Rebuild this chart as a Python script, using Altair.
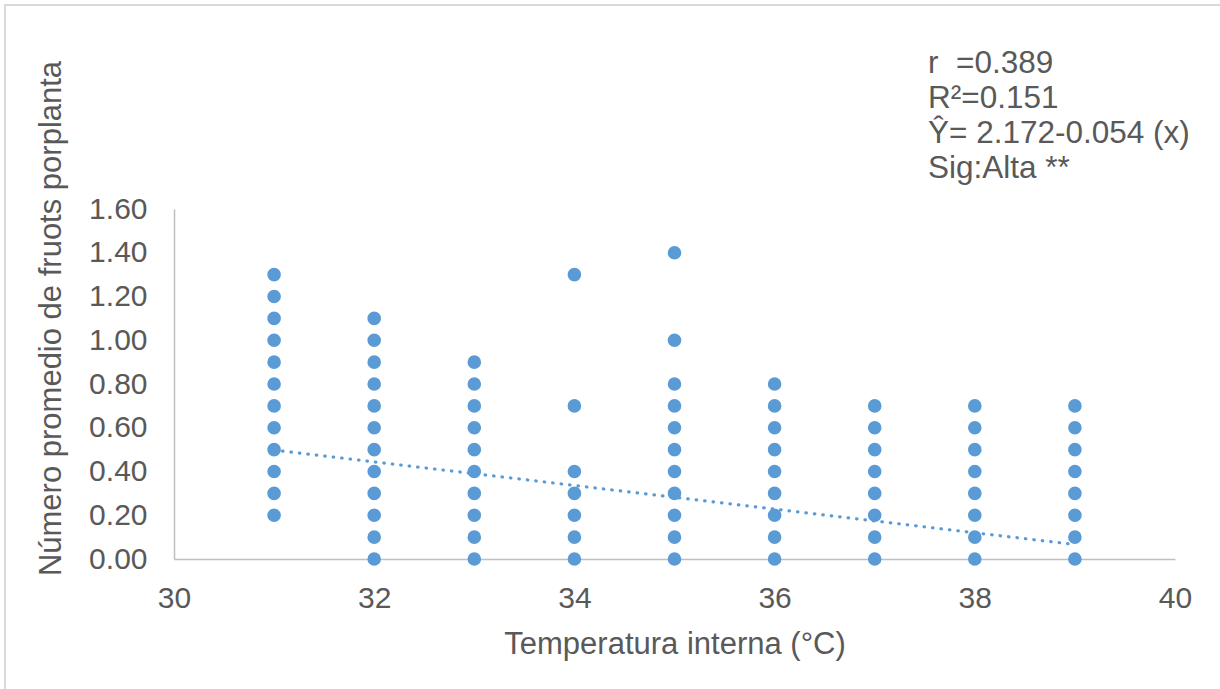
import altair as alt
import pandas as pd

# ---- data ----
temps = [31, 32, 33, 34, 35, 36, 37, 38, 39]
fruits_by_temp = [
    [0.2, 0.3, 0.4, 0.5, 0.6, 0.7, 0.8, 0.9, 1.0, 1.1, 1.2, 1.3],
    [0.0, 0.1, 0.2, 0.3, 0.4, 0.5, 0.6, 0.7, 0.8, 0.9, 1.0, 1.1],
    [0.0, 0.1, 0.2, 0.3, 0.4, 0.5, 0.6, 0.7, 0.8, 0.9],
    [0.0, 0.1, 0.2, 0.3, 0.4, 0.7, 1.3],
    [0.0, 0.1, 0.2, 0.3, 0.4, 0.5, 0.6, 0.7, 0.8, 1.0, 1.4],
    [0.0, 0.1, 0.2, 0.3, 0.4, 0.5, 0.6, 0.7, 0.8],
    [0.0, 0.1, 0.2, 0.3, 0.4, 0.5, 0.6, 0.7],
    [0.0, 0.1, 0.2, 0.3, 0.4, 0.5, 0.6, 0.7],
    [0.0, 0.1, 0.2, 0.3, 0.4, 0.5, 0.6, 0.7],
]
trend_intercept = 2.172
trend_slope = -0.054
trend_extent = [31, 39]
annotation_lines = ["r\u00a0\u00a0=0.389", "R²=0.151", "Ŷ= 2.172-0.054 (x)", "Sig:Alta **"]
x_ticks = [30, 32, 34, 36, 38, 40]
y_ticks = [0.0, 0.2, 0.4, 0.6, 0.8, 1.0, 1.2, 1.4, 1.6]

points = pd.DataFrame(
    [{"t": t, "f": v} for t, vals in zip(temps, fruits_by_temp) for v in vals]
)
trend = pd.DataFrame(
    {"t": trend_extent, "f": [trend_intercept + trend_slope * x for x in trend_extent]}
)
ann = pd.DataFrame({"txt": ["\n".join(annotation_lines)]})

FONT = "Liberation Sans"
GREY = "#595959"
BLUE = "#5b9bd5"

xscale = alt.Scale(domain=[30, 40], nice=False, zero=False)
yscale = alt.Scale(domain=[0, 1.6], nice=False)

xaxis = alt.Axis(
    values=x_ticks, format="d", title="Temperatura interna (°C)", grid=False, ticks=False,
    domainColor="#bfbfbf", domainWidth=1.5, labelFont=FONT, labelFontSize=30,
    labelColor=GREY, labelPadding=24, titleFont=FONT, titleFontSize=31,
    titleFontWeight="normal", titleColor=GREY, titleBaseline="alphabetic",
    titleY=94, labelFlush=False,
)
yaxis = alt.Axis(
    values=y_ticks, format=".2f", title="Número promedio de fruots porplanta",
    grid=False, ticks=False, domainColor="#bfbfbf", domainWidth=1.5,
    labelFont=FONT, labelFontSize=30, labelColor=GREY, labelPadding=27,
    titleFont=FONT, titleFontSize=31, titleFontWeight="normal", titleColor=GREY,
    titleAngle=270, titleBaseline="alphabetic", titleAlign="center",
    titleX=-114, titleY=109, labelFlush=False,
)

frame = alt.Chart(pd.DataFrame({"a": [0]})).mark_rect(
    fillOpacity=0, stroke="#d9d9d9", strokeWidth=2
).encode(
    x=alt.value(-169), x2=alt.value(1100), y=alt.value(-204), y2=alt.value(520)
)

scatter = alt.Chart(points).mark_circle(size=185, opacity=1, color=BLUE).encode(
    x=alt.X("t:Q", scale=xscale, axis=xaxis),
    y=alt.Y("f:Q", scale=yscale, axis=yaxis),
)

line = alt.Chart(trend).mark_line(
    color=BLUE, strokeWidth=3.2, strokeDash=[0.5, 8], strokeCap="round"
).encode(x=alt.X("t:Q", scale=xscale), y=alt.Y("f:Q", scale=yscale))

text = alt.Chart(ann).mark_text(
    align="left", baseline="alphabetic", font=FONT, fontSize=31.5, color=GREY,
    lineBreak="\n", lineHeight=35,
).encode(
    x=alt.value(754),
    y=alt.value(-136),
    text="txt:N",
)

chart = alt.layer(frame, scatter, line, text).properties(
    width=1001, height=350,
    autosize=alt.AutoSizeParams(type="none"),
    padding={"left": 174, "top": 209, "right": 45, "bottom": 130},
    background="white",
).configure_view(stroke=None)

chart.save("out.html", embed_options={"renderer": "svg", "actions": False})
